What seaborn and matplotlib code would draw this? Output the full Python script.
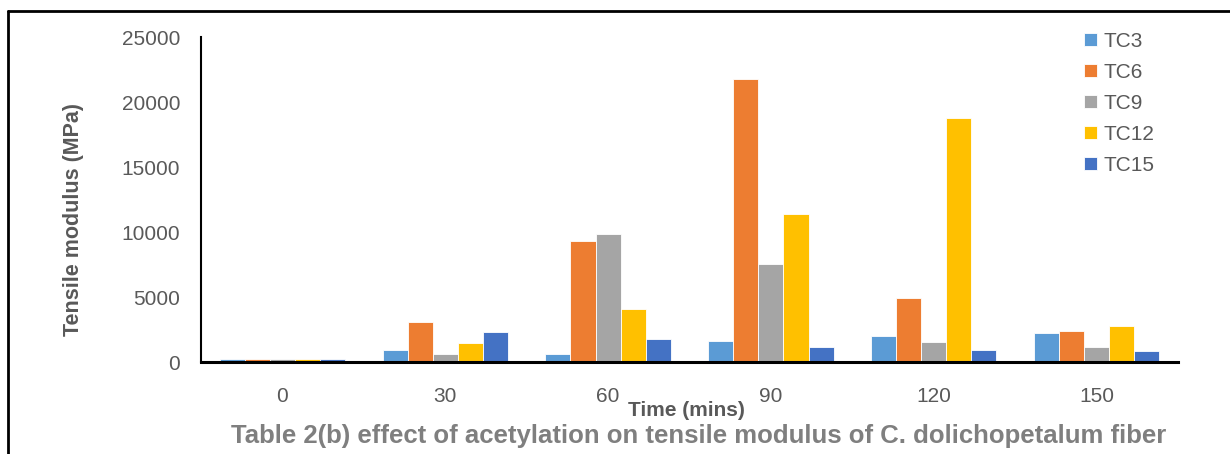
import matplotlib
matplotlib.use("Agg")
import matplotlib.pyplot as plt
import seaborn as sns
import pandas as pd
from matplotlib.lines import Line2D

times = ["0", "30", "60", "90", "120", "150"]
series = ["TC3", "TC6", "TC9", "TC12", "TC15"]
tc3 = [200, 950, 620, 1620, 1980, 2250]
tc6 = [200, 3080, 9280, 21740, 4920, 2420]
tc9 = [200, 600, 9820, 7570, 1570, 1150]
tc12 = [200, 1450, 4050, 11410, 18740, 2800]
tc15 = [200, 2290, 1750, 1130, 900, 810]
colors = ["#5B9BD5", "#ED7D31", "#A5A5A5", "#FFC000", "#4472C4"]

rows = []
for name, vals in zip(series, [tc3, tc6, tc9, tc12, tc15]):
    for t, v in zip(times, vals):
        rows.append({"Time": t, "Series": name, "Value": v})
df = pd.DataFrame(rows)

sns.set_theme(style="white")
plt.rcParams['font.family'] = ['Liberation Sans', 'DejaVu Sans']

fig = plt.figure(figsize=(12.3, 4.54), dpi=100)
ax = fig.add_axes([0.1634, 0.2026, 0.7943, 0.7159])

sns.barplot(data=df, x="Time", y="Value", hue="Series", order=times,
            hue_order=series, palette=colors, width=0.77, ax=ax,
            edgecolor="white", linewidth=0.6, saturation=1, legend=True)

ax.set_ylim(0, 25000)
ax.set_xlim(-0.5, 5.5)
ax.set_yticks([0, 5000, 10000, 15000, 20000, 25000])
ax.tick_params(axis="both", length=0, labelsize=15, labelcolor="#595959")
ax.tick_params(axis="x", pad=18)
ax.tick_params(axis="y", pad=15)
for s in ["top", "right"]:
    ax.spines[s].set_visible(False)
ax.spines["left"].set_color("black")
ax.spines["left"].set_linewidth(1.5)
ax.spines["bottom"].set_color("black")
ax.spines["bottom"].set_linewidth(2.2)

ax.set_ylabel("")
ax.set_xlabel("")
fig.text(73 / 1230, 1 - 220 / 454, "Tensile modulus (MPa)", fontsize=15.5,
         fontweight="bold", color="#595959", ha="center", va="center",
         rotation=90)
fig.text(686 / 1230, 1 - 410 / 454, "Time (mins)", fontsize=15, fontweight="bold",
         color="#595959", ha="center", va="center")
fig.text(699 / 1230, 1 - 436 / 454,
         "Table 2(b) effect of acetylation on tensile modulus of C. dolichopetalum fiber",
         fontsize=18.5, fontweight="bold", color="#7F7F7F", ha="center", va="center")

handles, labels = ax.get_legend_handles_labels()
ax.legend(handles, labels, loc="upper left", bbox_to_anchor=(0.885, 1.073),
          frameon=False, fontsize=15, labelcolor="#595959",
          handlelength=0.6, handleheight=0.6, handletextpad=0.3,
          labelspacing=0.57)

# outer border (top and left)
fig.add_artist(Line2D([8 / 1230, 1.0], [1 - 11 / 454, 1 - 11 / 454],
                      transform=fig.transFigure, color="black", lw=2))
fig.add_artist(Line2D([8 / 1230, 8 / 1230], [0, 1 - 11 / 454],
                      transform=fig.transFigure, color="black", lw=2))

fig.savefig("out.png", dpi=100, facecolor="white")
